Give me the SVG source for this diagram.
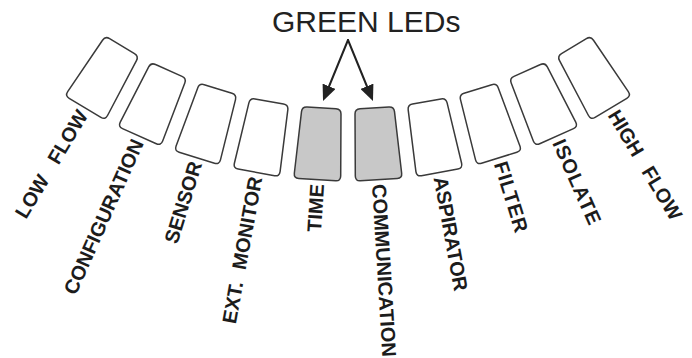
<svg xmlns="http://www.w3.org/2000/svg" xmlns:xlink="http://www.w3.org/1999/xlink" width="692" height="358" viewBox="0 0 692 358">
<style>
  .led{fill:#ffffff;stroke:#3a3a3a;stroke-width:1.5}
  .on{fill:#c8c8c8}
  .lbl{font-family:"Liberation Sans",Arial,sans-serif;font-weight:bold;font-size:20px;fill:#1c1c1c;dominant-baseline:central}
  .r{text-anchor:start}
  .l{text-anchor:end}
  .title{font-family:"Liberation Sans",Arial,sans-serif;font-size:30px;fill:#222}
  .arrow{stroke:#222;stroke-width:2;stroke-linecap:round;fill:none;marker-end:url(#ah)}
</style>
<defs>
  <path id="led" d="M -14.5,439.6 L 14.5,439.6 Q 19.5,439.6 19.78,444.6 L 23.22,506.6 Q 23.5,511.6 18.5,511.6 L -18.5,511.6 Q -23.5,511.6 -23.22,506.6 L -19.78,444.6 Q -19.5,439.6 -14.5,439.6 Z"/>
  <marker id="ah" viewBox="0 0 16 14" refX="10" refY="7" markerWidth="16" markerHeight="14" markerUnits="userSpaceOnUse" orient="auto">
    <path d="M0,0 L16,7 L0,14 Z" fill="#222"/>
  </marker>
</defs>
<rect width="692" height="358" fill="#ffffff"/>

<g id="title"><text class="title" x="272" y="32">GREEN LEDs</text></g>

<g id="connectors">
  <line class="arrow" x1="348" y1="40" x2="325.3" y2="95.5"/>
  <line class="arrow" x1="348" y1="40" x2="370.7" y2="95.5"/>
</g>

<g id="low-flow" transform="translate(348,-331) rotate(30.93)">
  <use href="#led" class="led"/>
  <text class="lbl l" transform="rotate(-90)" x="-516" y="0">LOW<tspan dx="11"> FLOW</tspan></text>
</g>
<g id="configuration" transform="translate(348,-331) rotate(24.06)">
  <use href="#led" class="led"/>
  <text class="lbl l" transform="rotate(-90)" x="-516" y="0">CONFIGURATION</text>
</g>
<g id="sensor" transform="translate(348,-331) rotate(17.19)">
  <use href="#led" class="led"/>
  <text class="lbl l" transform="rotate(-90)" x="-516" y="0">SENSOR</text>
</g>
<g id="ext-monitor" transform="translate(348,-331) rotate(10.32)">
  <use href="#led" class="led"/>
  <text class="lbl l" transform="rotate(-90)" x="-516" y="0">EXT.<tspan dx="7"> MONITOR</tspan></text>
</g>
<g id="time" transform="translate(348,-331) rotate(3.45)">
  <use href="#led" class="led on"/>
  <text class="lbl l" transform="rotate(-90)" x="-516" y="0">TIME</text>
</g>
<g id="communication" transform="translate(348,-331) rotate(-3.45)">
  <use href="#led" class="led on"/>
  <text class="lbl r" transform="rotate(90)" x="516" y="0">COMMUNICATION</text>
</g>
<g id="aspirator" transform="translate(348,-331) rotate(-10.32)">
  <use href="#led" class="led"/>
  <text class="lbl r" transform="rotate(90)" x="516" y="0">ASPIRATOR</text>
</g>
<g id="filter" transform="translate(348,-331) rotate(-17.19)">
  <use href="#led" class="led"/>
  <text class="lbl r" transform="rotate(90)" x="516" y="0" textLength="73">FILTER</text>
</g>
<g id="isolate" transform="translate(348,-331) rotate(-24.06)">
  <use href="#led" class="led"/>
  <text class="lbl r" transform="rotate(90)" x="516" y="0" textLength="91">ISOLATE</text>
</g>
<g id="high-flow" transform="translate(348,-331) rotate(-30.93)">
  <use href="#led" class="led"/>
  <text class="lbl r" transform="rotate(90)" x="516" y="0">HIGH<tspan dx="10"> FLOW</tspan></text>
</g>
</svg>
